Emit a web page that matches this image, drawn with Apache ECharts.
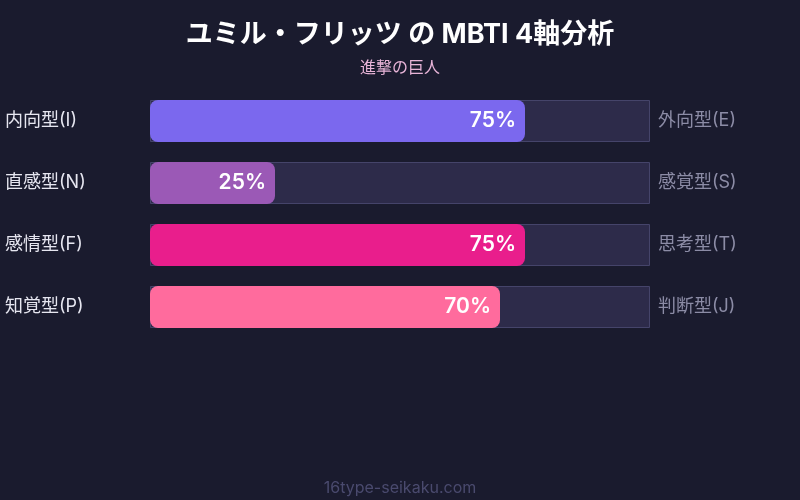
<!DOCTYPE html>
<html>
<head>
    <meta charset="utf-8">
    <script src="https://cdn.jsdelivr.net/npm/echarts@6/dist/echarts.min.js"></script>
    <style type="text/css">
        html, body { margin: 0; padding: 0; background: #1a1b2e; }
        #chart { width: 800px; height: 500px; }
    </style>
</head>
<body>
    <div id="chart"></div>
</body>
</html>

<script type="text/javascript">
    // MBTI axes: left type, right type, percent of the left type
    let leftLabels = ['内向型(I)', '直感型(N)', '感情型(F)', '知覚型(P)']
    let rightLabels = ['外向型(E)', '感覚型(S)', '思考型(T)', '判断型(J)']
    let values = [75, 25, 75, 70]
    let barColors = ['#7b68ee', '#9b59b6', '#e91e8c', '#ff6b9d']
    let trackValues = [100, 100, 100, 100]

    let font = 'Inter, "Noto Sans CJK JP", sans-serif'

    let myChart = echarts.init(document.getElementById('chart'))

    let option = {
        backgroundColor: '#1a1b2e',
        textStyle: { fontFamily: font },
        title: [
            {
                text: 'ユミル・フリッツ の MBTI 4軸分析',
                left: 'center',
                top: 16,
                textStyle: { color: '#ffffff', fontSize: 27, fontWeight: 'bold', fontFamily: font }
            },
            {
                text: '進撃の巨人',
                left: 'center',
                top: 55,
                textStyle: { color: '#e8b4d8', fontSize: 16, fontWeight: 'normal', fontFamily: font }
            },
            {
                text: '16type-seikaku.com',
                left: 'center',
                top: 475,
                textStyle: { color: '#4a4a6e', fontSize: 16, fontWeight: 'normal', fontFamily: font }
            }
        ],
        grid: { left: 150, right: 150, top: 90, height: 248 },
        xAxis: {
            type: 'value',
            min: 0,
            max: 100,
            show: false
        },
        yAxis: [
            {
                type: 'category',
                inverse: true,
                data: leftLabels,
                axisLine: { show: false },
                axisTick: { show: false },
                axisLabel: {
                    color: '#e6e6f0',
                    fontSize: 18,
                    align: 'left',
                    margin: 145,
                    fontFamily: font
                }
            },
            {
                type: 'category',
                inverse: true,
                position: 'right',
                data: rightLabels,
                axisLine: { show: false },
                axisTick: { show: false },
                axisLabel: {
                    color: '#8c8ca6',
                    fontSize: 18,
                    align: 'left',
                    margin: 8,
                    fontFamily: font
                }
            }
        ],
        series: [
            {
                type: 'bar',
                data: trackValues,
                barWidth: 42,
                silent: true,
                itemStyle: { color: '#2d2b4a', borderColor: '#45446a', borderWidth: 1 },
                z: 1
            },
            {
                type: 'bar',
                data: values.map((v, i) => ({ value: v, itemStyle: { color: barColors[i] } })),
                barWidth: 42,
                barGap: '-100%',
                itemStyle: { borderRadius: 8 },
                label: {
                    show: true,
                    position: 'insideRight',
                    distance: 9,
                    formatter: '{c}%',
                    color: '#ffffff',
                    fontSize: 21,
                    fontWeight: 600,
                    fontFamily: font
                },
                z: 2
            }
        ]
    }

    myChart.setOption(option)
</script>
